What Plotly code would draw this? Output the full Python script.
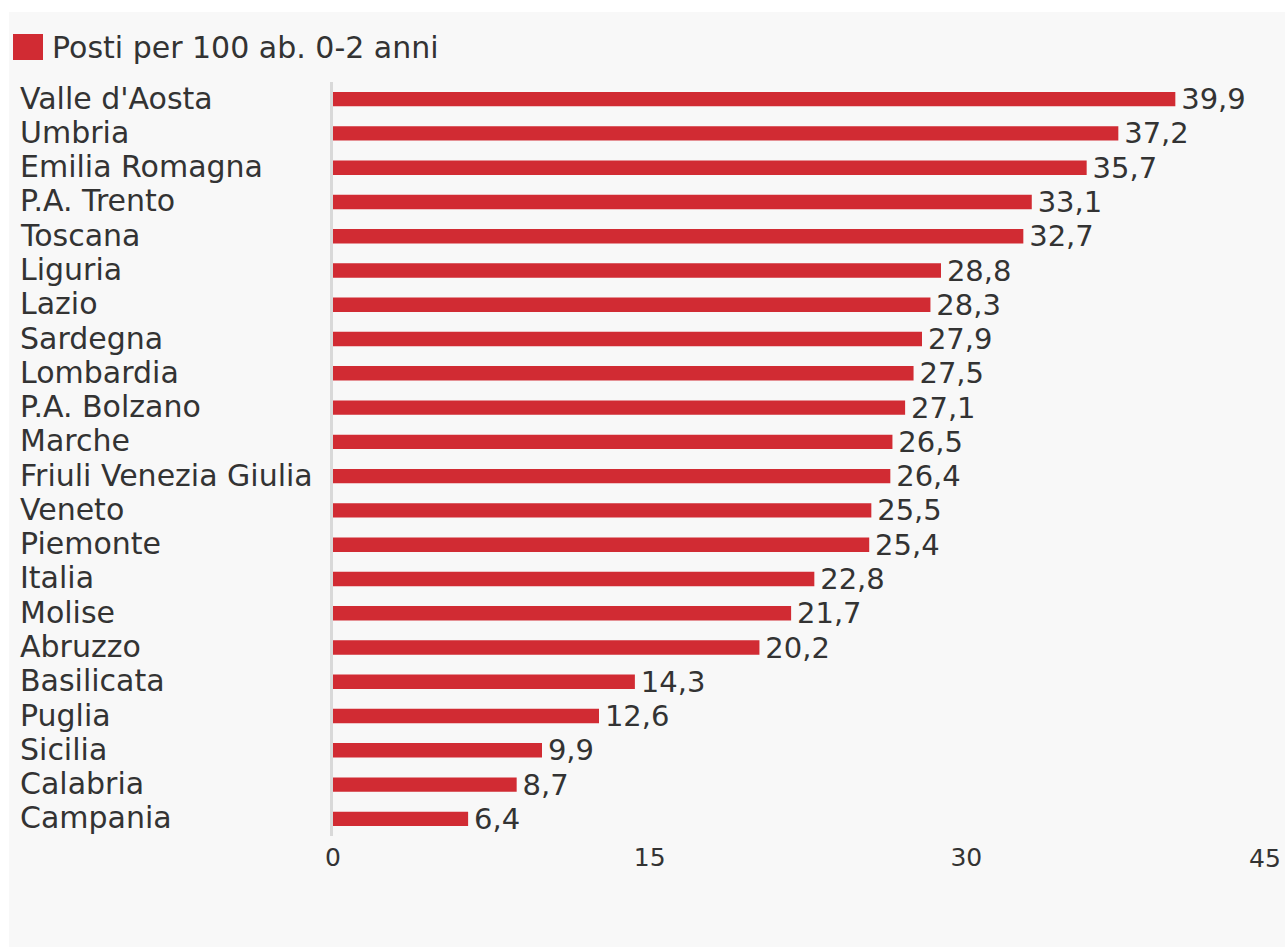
import plotly.graph_objects as go

regions = ["Valle d'Aosta", "Umbria", "Emilia Romagna", "P.A. Trento", "Toscana", "Liguria",
           "Lazio", "Sardegna", "Lombardia", "P.A. Bolzano", "Marche", "Friuli Venezia Giulia",
           "Veneto", "Piemonte", "Italia", "Molise", "Abruzzo", "Basilicata", "Puglia",
           "Sicilia", "Calabria", "Campania"]
values = [39.9, 37.2, 35.7, 33.1, 32.7, 28.8, 28.3, 27.9, 27.5, 27.1, 26.5, 26.4,
          25.5, 25.4, 22.8, 21.7, 20.2, 14.3, 12.6, 9.9, 8.7, 6.4]
x_ticks = [0, 15, 30]
x_max = 45
series_name = "Posti per 100 ab. 0-2 anni"

W, H = 1285, 947
ML, MR, MT, MB = 333, 2, 82, 111
PW, PH = W - ML - MR, H - MT - MB

def px(xp):
    return (xp - ML) / PW

def py(yp):
    return (H - MB - yp) / PH

RED = "#d12b33"
TXT = "#333333"
FONT = "DejaVu Sans"

fig = go.Figure()
fig.add_trace(go.Bar(
    x=values, y=regions, orientation="h", width=0.42,
    marker=dict(color=RED, line=dict(width=0)),
    text=values, texttemplate="\u200a%{x:.1f}", textposition="outside",
    constraintext="none",
    textfont=dict(size=29, color=TXT, family=FONT),
    cliponaxis=False, name=series_name, showlegend=False,
))

shapes = [
    dict(type="rect", xref="paper", yref="paper", x0=px(9), x1=px(1290),
         y0=py(950), y1=py(12), fillcolor="#f8f8f8", line=dict(width=0), layer="below"),
    dict(type="rect", xref="paper", yref="paper", x0=px(13), x1=px(43),
         y0=py(60), y1=py(34), fillcolor=RED, line=dict(width=0)),
]

annotations = [
    dict(text=series_name, xref="paper", yref="paper", x=px(50), y=py(48),
         xanchor="left", yanchor="middle", showarrow=False,
         font=dict(size=30, color=TXT, family=FONT)),
    # last axis tick label, right-aligned so it stays inside the frame
    dict(text=str(x_max), xref="x", yref="paper", x=x_max, y=py(858),
         xanchor="right", yanchor="middle", showarrow=False, xshift=0,
         font=dict(size=25, color=TXT, family=FONT)),
]
for r in regions:
    annotations.append(dict(text=r, xref="paper", yref="y", x=px(18), y=r,
                            xanchor="left", yanchor="middle", showarrow=False, yshift=1,
                            font=dict(size=30, color=TXT, family=FONT)))

fig.update_layout(
    width=W, height=H,
    margin=dict(l=ML, r=MR, t=MT, b=MB, autoexpand=False),
    paper_bgcolor="white", plot_bgcolor="rgba(0,0,0,0)",
    separators=",.",
    font=dict(family=FONT, color=TXT),
    shapes=shapes, annotations=annotations,
    xaxis=dict(range=[0, x_max], tickvals=x_ticks, showgrid=False,
               zeroline=False, showline=False, ticks="", ticklabelstandoff=4,
               tickfont=dict(size=25, color=TXT, family=FONT)),
    yaxis=dict(range=[len(regions) - 0.5, -0.5], autorange=False, showticklabels=False,
               showgrid=False, showline=True, linecolor="#d9d9d9", linewidth=3, ticks=""),
    bargap=0.5,
)

fig.write_html("out.html")
